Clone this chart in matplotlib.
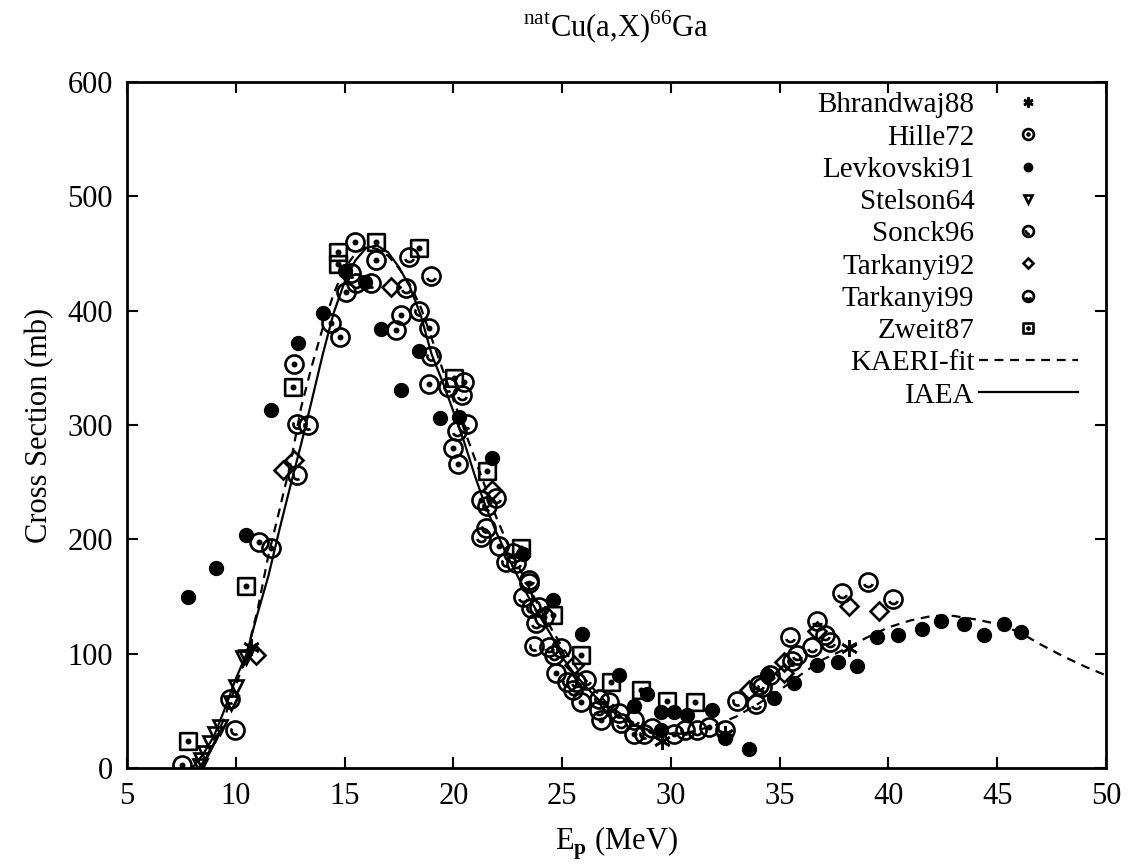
import matplotlib
matplotlib.use("Agg")
import matplotlib.pyplot as plt
import numpy as np
from matplotlib.path import Path

plt.rcParams['font.family'] = ['Liberation Serif', 'DejaVu Serif']
plt.rcParams['mathtext.fontset'] = 'custom'
plt.rcParams['mathtext.rm'] = 'Liberation Serif'
plt.rcParams['mathtext.bf'] = 'Liberation Serif:bold'

# --- data (E in MeV, cross section in mb) ---
bhr_E = [10.7, 29.6, 32.5, 38.2]
bhr_xs = [106, 24, 30, 105]

hille_E = [7.55, 11.07, 11.64, 12.66, 14.39, 14.77, 15.08, 15.46, 16.45, 17.6, 17.37,
           18.87, 18.9, 20.5, 20.0, 20.2, 21.27, 22.11, 23.49, 24.17, 24.71, 25.86,
           26.77, 28.3, 30.14, 31.74]
hille_xs = [3, 198, 192, 353, 389, 377, 416, 460, 444, 396, 383,
            385, 336, 338, 280, 266, 234, 194, 162, 132, 83, 58,
            42, 30, 30, 36]

lev_E = [7.81, 9.11, 10.46, 11.64, 12.86, 14.0, 15.0, 15.92, 16.68, 17.6, 18.44,
         19.39, 20.24, 21.8, 23.18, 24.56, 25.93, 27.61, 28.3, 28.91, 29.53, 30.14,
         29.53, 30.75, 31.9, 32.5, 33.58, 34.42, 34.72, 35.64, 36.71, 37.7, 38.55,
         39.46, 40.46, 41.53, 42.42, 43.47, 44.39, 45.31, 46.11]
lev_xs = [150, 175, 204, 313, 372, 398, 435, 425, 384, 331, 365,
          306, 307, 271, 187, 147, 117, 81, 54, 65, 49, 49,
          33, 46, 51, 26, 17, 81, 61, 74, 90, 93, 89,
          115, 116, 122, 129, 126, 116, 126, 119]

stel_E = [8.35, 8.4, 8.58, 8.8, 9.04, 9.27, 9.8, 10.03, 10.34, 10.49]
stel_xs = [2, 7, 13, 22, 30, 36, 57, 71, 96, 97]

sonck_E = [9.72, 9.95, 12.83, 13.32, 12.81, 15.3, 16.2, 18.41, 18.98, 19.74, 20.61,
           21.57, 21.5, 22.42, 23.56, 23.72, 24.94, 25.24, 26.7, 27.61, 28.76,
           30.67, 33.05, 34.19, 35.56]
sonck_xs = [60, 33, 301, 300, 256, 433, 424, 400, 360, 333, 301,
            229, 210, 180, 140, 107, 105, 75, 60, 48, 30,
            33, 59, 71, 94]

tar92_E = [10.95, 12.17, 12.66, 17.14, 21.77, 25.55, 33.58, 35.18, 35.18, 36.71, 38.17, 39.57]
tar92_xs = [99, 261, 269, 421, 243, 90, 68, 93, 83, 120, 142, 137]

tar99_E = [15.54, 17.98, 18.98, 17.83, 20.4, 20.15, 21.27, 21.98, 22.72, 22.88, 23.18,
           23.49, 23.94, 23.79, 24.4, 24.63, 25.63, 26.09, 25.48, 27.15, 26.7, 27.69,
           28.3, 29.14, 31.2, 32.5, 33.89, 34.04, 34.57, 35.79, 35.49, 36.48, 36.71,
           37.1, 37.32, 37.86, 39.08, 40.23]
tar99_xs = [424, 447, 430, 420, 326, 295, 202, 236, 188, 179, 150,
            164, 141, 127, 106, 99, 75, 77, 68, 58, 51, 39,
            42, 35, 33, 33, 56, 73, 81, 99, 115, 106, 129,
            116, 110, 153, 163, 148]

zweit_E = [7.81, 10.46, 12.63, 14.7, 14.7, 16.45, 18.44, 20.05, 21.57, 23.1, 24.56,
           25.86, 27.23, 28.61, 29.83, 31.1]
zweit_xs = [24, 159, 333, 451, 441, 460, 455, 341, 260, 192, 134,
            99, 75, 68, 59, 58]

kaeri_E = [8.3, 8.5, 9.0, 9.5, 10.0, 10.5, 11.0, 11.5, 12.0, 12.5, 13.0, 13.5, 14.0,
           14.5, 15.0, 15.5, 16.0, 16.5, 17.0, 17.5, 18.0, 18.5, 19.0, 19.5, 20.0,
           20.5, 21.0, 21.5, 22.0, 22.5, 23.0, 23.5, 24.0, 24.5, 25.0, 25.5, 26.0,
           26.5, 27.0, 27.5, 28.0, 28.5, 29.0, 29.5, 30.0, 30.5, 31.0, 32.0, 33.0,
           34.0, 35.0, 36.0, 37.0, 38.0, 39.0, 40.0, 41.0, 42.0, 43.0, 44.0, 45.0,
           46.0, 47.0, 48.0, 49.0, 50.0]
kaeri_xs = [0, 5, 22, 45, 72, 100, 138, 186, 225, 265, 315, 352, 385,
            415, 437, 450, 456, 454, 448, 437, 423, 403, 376, 349, 322,
            296, 270, 244, 218, 196, 176, 157, 139, 122, 106, 92, 79,
            68, 58, 50, 43, 37, 33, 31, 30, 30, 32, 37, 45,
            56, 68, 82, 95, 104, 114, 123, 129, 133, 133, 130, 126,
            119, 108, 98, 89, 81]

iaea_E = [8.0, 8.5, 9.0, 9.5, 10.0, 10.5, 11.0, 11.5, 12.0, 12.5, 13.0, 13.5, 14.0,
          14.5, 15.0, 15.5, 16.0, 16.5, 17.0, 17.5, 18.0, 18.5, 19.0, 19.5, 20.0,
          20.5, 21.0, 21.5, 22.0, 22.5, 23.0, 23.5, 24.0, 24.5, 25.0, 25.5, 26.0,
          26.5, 27.0, 27.5, 28.0, 28.5, 29.0, 29.5, 30.0, 30.5, 31.0]
iaea_xs = [0, 12, 28, 52, 78, 100, 135, 168, 208, 246, 283, 322, 362,
           398, 425, 444, 455, 457, 451, 438, 421, 396, 362, 338, 312,
           285, 255, 228, 205, 185, 166, 148, 132, 116, 97, 84, 73,
           63, 54, 47, 41, 36, 33, 31, 30, 30, 31]

# --- markers like the gnuplot symbols ---
circ = Path.circle((0, 0), 1.0)
dot_circle = Path.make_compound_path(circ, Path.circle((0, 0), 0.18))
arc = Path.arc(200, 340)
smile = Path(arc.vertices * 0.5, arc.codes)
tar99_mk = Path.make_compound_path(circ, smile)
half = Path.arc(150, 300)
sonck_mk = Path.make_compound_path(circ, Path(half.vertices * 0.45, half.codes))
sq = Path([(-1, -1), (1, -1), (1, 1), (-1, 1), (-1, -1)],
          [Path.MOVETO, Path.LINETO, Path.LINETO, Path.LINETO, Path.CLOSEPOLY])
sq_dot = Path.make_compound_path(sq, Path.circle((0, 0), 0.2))

fig = plt.figure(figsize=(11.31, 8.66), dpi=100)
ax = fig.add_axes([127 / 1131, 1 - 768 / 866, (1106 - 127) / 1131, (768 - 82) / 866])

fs = 22
mew = 1.9
ax.plot(bhr_E, bhr_xs, ls='none', marker=(6, 2, 0), ms=12, mec='k', mew=mew, label='Bhrandwaj88')
ax.plot(hille_E, hille_xs, ls='none', marker=dot_circle, ms=13, mfc='none', mec='k', mew=mew, label='Hille72')
ax.plot(lev_E, lev_xs, ls='none', marker='o', ms=10, mfc='k', mec='k', label='Levkovski91')
ax.plot(stel_E, stel_xs, ls='none', marker='v', ms=10, mfc='none', mec='k', mew=mew, label='Stelson64')
ax.plot(sonck_E, sonck_xs, ls='none', marker=sonck_mk, ms=13, mfc='none', mec='k', mew=mew, label='Sonck96')
ax.plot(tar92_E, tar92_xs, ls='none', marker='D', ms=9, mfc='none', mec='k', mew=mew, label='Tarkanyi92')
ax.plot(tar99_E, tar99_xs, ls='none', marker=tar99_mk, ms=13, mfc='none', mec='k', mew=mew, label='Tarkanyi99')
ax.plot(zweit_E, zweit_xs, ls='none', marker=sq_dot, ms=12, mfc='none', mec='k', mew=mew, label='Zweit87')
ax.plot(kaeri_E, kaeri_xs, color='k', ls=(0, (4, 3)), lw=1.6, label='KAERI-fit')
ax.plot(iaea_E, iaea_xs, color='k', ls='-', lw=1.6, label='IAEA')

ax.set_xlim(5, 50)
ax.set_ylim(0, 600)
ax.set_xticks(np.arange(5, 51, 5))
ax.set_yticks(np.arange(0, 601, 100))
ax.tick_params(direction='in', length=8, width=1.5, top=True, right=True,
               labelsize=fs, pad=10)
for s in ax.spines.values():
    s.set_linewidth(2)

ax.set_xlabel(r'E$_{\mathbf{p}}$ (MeV)', fontsize=fs, labelpad=10)
ax.set_ylabel('Cross Section (mb)', fontsize=fs, labelpad=10)
ax.set_title(r'$^{\mathrm{nat}}$Cu(a,X)$^{66}$Ga', fontsize=fs, pad=32)

leg = ax.legend(loc='upper right', bbox_to_anchor=(1078 / 1131, 1 - 92 / 866),
                bbox_transform=fig.transFigure, frameon=False, markerfirst=False,
                fontsize=21, labelspacing=0.2, handlelength=3.4, handletextpad=0.15,
                borderpad=0, borderaxespad=0, markerscale=0.6)

fig.savefig('out.png', dpi=100)
